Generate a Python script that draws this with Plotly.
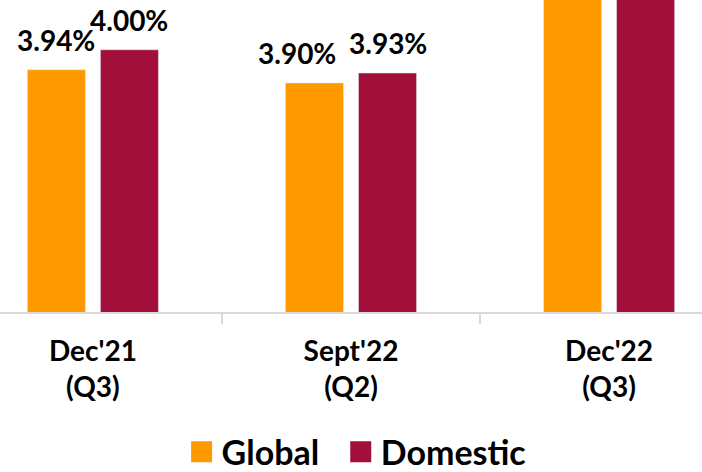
import plotly.graph_objects as go

categories = ["Dec'21<br>(Q3)", "Sept'22<br>(Q2)", "Dec'22<br>(Q3)"]
global_vals = [3.94, 3.90, 4.30]
domestic_vals = [4.00, 3.93, 4.35]
global_labels = ["3.94%", "3.90%", ""]
domestic_labels = ["4.00%", "3.93%", ""]

ORANGE = "#FF9900"
CRIMSON = "#A20F3B"
FONT = "Lato"

X_RANGE = [-0.36, 2.36]
BARGAP = 0.434
PLOT_W = 702
unit_px = PLOT_W / (X_RANGE[1] - X_RANGE[0])
offset_px = unit_px * (1 - BARGAP) / 4
# manual label nudges (px) as in the reference
global_nudge = [0, -17, 0]
domestic_nudge = [0, 0, 0]

fig = go.Figure()
fig.add_trace(go.Bar(x=categories, y=global_vals, name="Global", marker_color=ORANGE,
                     cliponaxis=True, showlegend=False))
fig.add_trace(go.Bar(x=categories, y=domestic_vals, name="Domestic", marker_color=CRIMSON,
                     cliponaxis=True, showlegend=False))
# legend entries with larger square swatches
for nm, col in [("Global\u00a0\u00a0", ORANGE), ("Domestic", CRIMSON)]:
    fig.add_trace(go.Scatter(x=[None], y=[None], mode="markers", name=nm,
                             marker=dict(symbol="square", size=16, color=col,
                                         line=dict(color=col, width=5))))

# value labels above bars
for vals, labels, shift, nudges in [(global_vals, global_labels, -offset_px, global_nudge),
                                    (domestic_vals, domestic_labels, offset_px, domestic_nudge)]:
    for c, v, t, n in zip(categories, vals, labels, nudges):
        if t:
            fig.add_annotation(x=c, y=v, text=t, showarrow=False, xshift=shift + n,
                               yanchor="bottom", yshift=11,
                               font=dict(family=FONT, size=28, color="black", weight="bold"))

fig.update_layout(
    width=702, height=472,
    margin=dict(l=0, r=0, t=0, b=160, autoexpand=False),
    plot_bgcolor="white", paper_bgcolor="white",
    barmode="group", bargap=BARGAP, bargroupgap=0.205,
    legend=dict(orientation="h", x=0.508, xanchor="center", y=-0.449, yanchor="middle",
                font=dict(family=FONT, size=34, color="black", weight="bold"),
                itemsizing="trace", itemwidth=30, traceorder="normal"),
    font=dict(family=FONT, color="black"),
)
fig.update_xaxes(range=X_RANGE, showline=True, linecolor="#D9D9D9", linewidth=2,
                 ticks="outside", tickson="boundaries", ticklen=10, tickcolor="#D9D9D9",
                 tickwidth=2, ticklabelstandoff=13,
                 tickfont=dict(family=FONT, size=28, color="black", weight="bold"),
                 showgrid=False, automargin=False, fixedrange=True)
fig.update_yaxes(range=[3.21, 4.15], visible=False, showgrid=False, automargin=False,
                 fixedrange=True)

fig.write_html("out.html", config={"displayModeBar": False},
               post_script="document.body.style.margin='0';")
